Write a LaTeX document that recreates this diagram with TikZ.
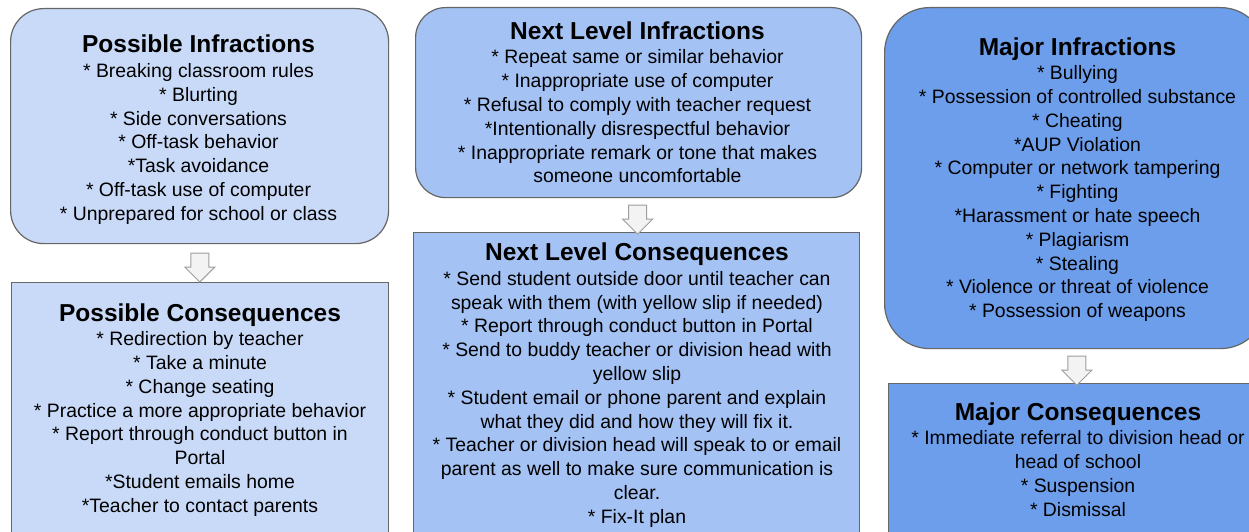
\documentclass[tikz,border=0pt]{standalone}
\usepackage{fontspec}
\setmainfont{Liberation Sans}
\usepackage{xcolor}
\usepackage{tikz}
\usetikzlibrary{calc}
\usetikzlibrary{shapes.arrows}

\definecolor{lvlone}{HTML}{C9DAF8}
\definecolor{lvltwo}{HTML}{A4C2F4}
\definecolor{lvlthree}{HTML}{6D9EEB}
\definecolor{edgegray}{HTML}{666666}
\definecolor{arrgray}{HTML}{9E9E9E}
\definecolor{arrfill}{HTML}{F3F3F3}

\tikzstyle{stagebox} = [draw=edgegray, line width=1.2pt, inner sep=0pt, anchor=north west]
\tikzstyle{downarr} = [single arrow, rotate=-90, draw=arrgray, fill=arrfill, line width=1pt,
	minimum height=29pt, minimum width=0pt, inner xsep=0pt, inner ysep=8.5pt,
	single arrow head extend=6pt]
\tikzstyle{txt} = [align=center, inner sep=0pt, anchor=north,
	font=\fontsize{19.4}{23.8}\selectfont]
\newcommand{\ttl}[1]{{\fontsize{24.5}{23.8}\selectfont\bfseries #1}\\[0.7pt]}

\begin{document}
\begin{tikzpicture}[x=1pt,y=-1pt]
	\useasboundingbox (0,0) rectangle (1249,532);
	\fill[white] (0,0) rectangle (1249,532);
	\clip (0,0) rectangle (1249,532);

	% possible
	\node[stagebox, fill=lvlone, rounded corners=33pt, minimum width=378, minimum height=235] (pinf) at (10,8) {};
	\node[stagebox, fill=lvlone, minimum width=377, minimum height=290] (pcon) at (11,282) {};
	\node[downarr] (arra) at ($(pinf.south)!0.5!(pcon.north)$) {};

	\node[txt] (pinftxt) at (198.5,35) {\ttl{Possible Infractions}
		* Breaking classroom rules\\
		* Blurting\\
		* Side conversations\\
		* Off-task behavior\\
		*Task avoidance\\
		* Off-task use of computer\\
		* Unprepared for school or class};
	\node[txt] (pcontxt) at (200,303.2) {\ttl{Possible Consequences}
		* Redirection by teacher\\
		* Take a minute\\
		* Change seating\\
		* Practice a more appropriate behavior\\
		* Report through conduct button in\\
		Portal\\
		*Student emails home\\
		*Teacher to contact parents};

	% next level
	\node[stagebox, fill=lvltwo, rounded corners=30pt, minimum width=446, minimum height=190] (ninf) at (415,7) {};
	\node[stagebox, fill=lvltwo, minimum width=446, minimum height=340] (ncon) at (413,232) {};
	\node[downarr] (arrb) at ($(ninf.south)!0.5!(ncon.north)$) {};

	\node[txt] (ninftxt) at (637.5,21.5) {\ttl{Next Level Infractions}
		* Repeat same or similar behavior\\
		* Inappropriate use of computer\\
		* Refusal to comply with teacher request\\
		*Intentionally disrespectful behavior\\
		* Inappropriate remark or tone that makes\\
		someone uncomfortable};
	\node[txt] (ncontxt) at (637,242.9) {\ttl{Next Level Consequences}
		* Send student outside door until teacher can\\
		speak with them (with yellow slip if needed)\\
		* Report through conduct button in Portal\\
		* Send to buddy teacher or division head with\\
		yellow slip\\
		* Student email or phone parent and explain\\
		what they did and how they will fix it.\\
		* Teacher or division head will speak to or email\\
		parent as well to make sure communication is\\
		clear.\\
		* Fix-It plan};

	% major
	\node[stagebox, fill=lvlthree, rounded corners=45pt, minimum width=381, minimum height=341] (minf) at (884,7) {};
	\node[stagebox, fill=lvlthree, minimum width=380, minimum height=190] (mcon) at (888,383) {};
	\node[downarr] (arrc) at ($(minf.south)!0.5!(mcon.north)$) {};

	\node[txt] (minftxt) at (1077.5,37.2) {\ttl{Major Infractions}
		* Bullying\\
		* Possession of controlled substance\\
		* Cheating\\
		*AUP Violation\\
		* Computer or network tampering\\
		* Fighting\\
		*Harassment or hate speech\\
		* Plagiarism\\
		* Stealing\\
		* Violence or threat of violence\\
		* Possession of weapons};
	\node[txt] (mcontxt) at (1078,402.2) {\ttl{Major Consequences}
		* Immediate referral to division head or\\
		head of school\\
		* Suspension\\
		* Dismissal};
\end{tikzpicture}
\end{document}
